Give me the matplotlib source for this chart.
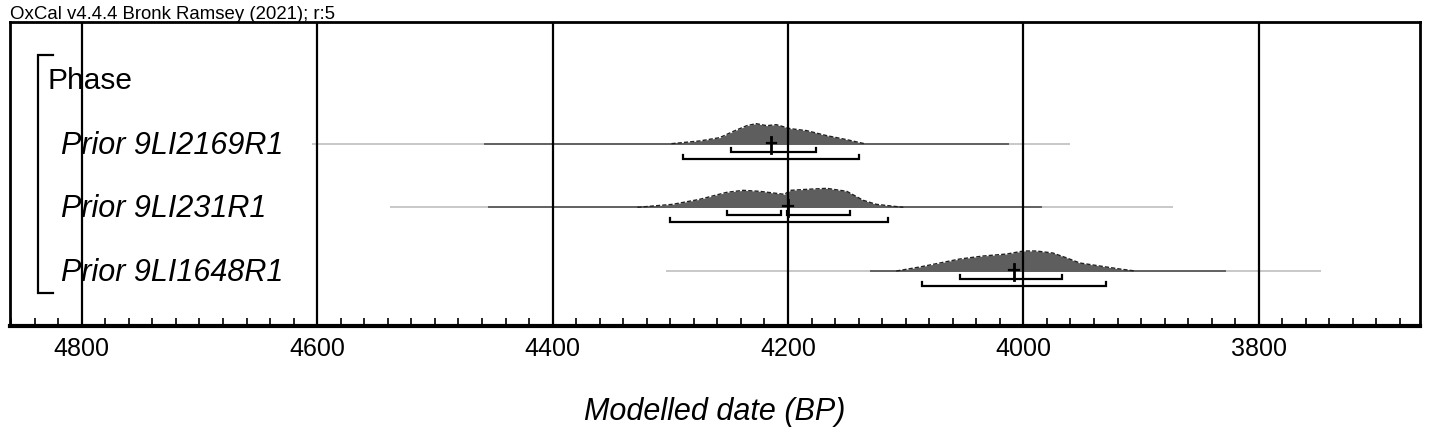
import matplotlib
matplotlib.use("Agg")
import matplotlib.pyplot as plt
from matplotlib import font_manager
from matplotlib.ticker import MultipleLocator, FixedLocator
import matplotlib.transforms as mtransforms
import numpy as np

# ---------------- data ----------------
header = "OxCal v4.4.4 Bronk Ramsey (2021); r:5"
group_label = "Phase"
labels = ["Prior 9LI2169R1", "Prior 9LI231R1", "Prior 9LI1648R1"]
xlabel = "Modelled date (BP)"
major_ticks = [4800, 4600, 4400, 4200, 4000, 3800]

# full (light) line extent and darker central extent, years BP
range_light = [(4604, 3960), (4538, 3873), (4304, 3747)]
range_dark = [(4458, 4012), (4455, 3984), (4130, 3828)]

# posterior density outlines (years BP, relative height)
dens1_x = [4299, 4275, 4258, 4247, 4235, 4227, 4218, 4210, 4198, 4184, 4167, 4150, 4135]
dens1_y = [0, 2.7, 6, 12, 18, 20, 18, 19, 15, 13, 8, 4, 0]
dens2_x = [4328, 4298, 4275, 4252, 4238, 4224, 4210, 4203, 4198, 4184, 4167, 4150, 4136, 4125, 4102]
dens2_y = [0, 3, 8, 15, 17, 16, 14, 13, 17, 18, 19, 16, 7, 3, 0]
dens3_x = [4108, 4088, 4071, 4054, 4034, 4014, 4000, 3989, 3975, 3963, 3952, 3935, 3918, 3905]
dens3_y = [0, 4, 8, 12, 15, 17, 20, 20, 18, 13, 8, 5, 2, 0]

# medians / mean markers
medians = [4214, 4200, 4008]
# 68.3% and 95.4% ranges (lists of segments)
range68 = [[(4248, 4176)], [(4252, 4206), (4201, 4147)], [(4054, 3967)]]
range95 = [[(4289, 4140)], [(4300, 4115)], [(4086, 3930)]]

# ---------------- styling ----------------
W, H = 1429, 434
DPI = 100
PX = 63.67  # pixels per row unit

def has_font(name):
    try:
        font_manager.findfont(font_manager.FontProperties(family=name), fallback_to_default=False)
        return True
    except Exception:
        return False

base = "Liberation Sans" if has_font("Liberation Sans") else "DejaVu Sans"
narrow = "Liberation Sans Narrow" if has_font("Liberation Sans Narrow") else base
tick_fs = 20 if narrow != base else 18
plt.rcParams["font.family"] = [base, "DejaVu Sans"]

fig = plt.figure(figsize=(W / DPI, H / DPI), dpi=DPI)
ax = fig.add_axes([10 / W, (H - 326) / H, 1410 / W, 304 / H])

x_left, x_right = 4861, 3663
ax.set_xlim(x_left, x_right)
ax.set_ylim((326 - 80) / PX, (22 - 80) / PX)

dens_x = [dens1_x, dens2_x, dens3_x]
dens_y = [dens1_y, dens2_y, dens3_y]

for i in range(3):
    row = i + 1
    l0, l1 = range_light[i]
    ax.plot([l0, l1], [row, row], color="#c4c4c4", lw=1.3, zorder=1, solid_capstyle="butt")
    d0, d1 = range_dark[i]
    ax.plot([d0, d1], [row, row], color="#5a5a5a", lw=1.3, zorder=1.1, solid_capstyle="butt")
    xs = np.array(dens_x[i], dtype=float)
    ys = row - np.array(dens_y[i], dtype=float) / PX
    ax.fill_between(xs, row, ys, color="#5e5e5e", lw=0, zorder=1.2)
    ax.plot(xs, ys, color="#222222", lw=1.0, ls=(0, (3, 1.5)), zorder=1.3)
    # median cross
    m = medians[i]
    ax.plot([m, m], [row - 7 / PX, row + 9 / PX], color="black", lw=2.0, zorder=4)
    ax.plot([m - 4, m + 4], [row - 1 / PX, row - 1 / PX], color="black", lw=1.6, zorder=4)
    # ranges
    for segs, off in ((range68[i], 8), (range95[i], 15)):
        yb = row + off / PX
        for a, b in segs:
            ax.plot([a, a, b, b], [yb - 4 / PX, yb, yb, yb - 4 / PX],
                    color="black", lw=1.6, zorder=4, solid_joinstyle="miter")

# labels
blend = mtransforms.blended_transform_factory(ax.transAxes, ax.transData)
ax.text((47 - 10) / 1410, 0 + 9 / PX, group_label, transform=blend, ha="left", va="baseline",
        fontsize=21.5, zorder=2)
for i, lab in enumerate(labels):
    ax.text((61 - 10) / 1410, i + 1 + 10 / PX, lab, transform=blend, ha="left", va="baseline",
            fontsize=22, style="italic", zorder=2)

# bracket
bx0, bx1 = (38 - 10) / 1410, (53 - 10) / 1410
yt, yb = (55 - 80) / PX, (293 - 80) / PX
ax.plot([bx1, bx0, bx0, bx1], [yt, yt, yb, yb], transform=blend, color="black", lw=1.6,
        zorder=4, solid_joinstyle="miter", clip_on=False)

# axes, grid, ticks
ax.xaxis.set_major_locator(FixedLocator(major_ticks))
ax.xaxis.set_minor_locator(MultipleLocator(20))
ax.set_xticklabels([str(t) for t in major_ticks], fontfamily=narrow, fontsize=tick_fs)
ax.tick_params(axis="x", which="major", length=0, pad=8)
ax.tick_params(axis="x", which="minor", direction="in", length=6, width=1.2, color="black")
ax.set_yticks([])
ax.grid(axis="x", which="major", color="black", lw=1.6)
ax.set_axisbelow(False)
for side in ("left", "right", "top"):
    ax.spines[side].set_linewidth(2.0)
ax.spines["bottom"].set_linewidth(3.0)

fig.text(715 / W, (H - 420) / H, xlabel, ha="center", va="baseline", fontsize=22, style="italic")
fig.text(10 / W, (H - 19) / H, header, ha="left", va="baseline", fontsize=13.4)

fig.savefig("out.png", dpi=DPI)
